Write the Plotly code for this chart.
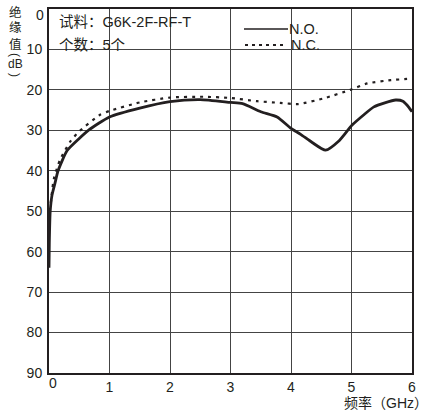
import plotly.graph_objects as go

# ---- data ----
no_x = [0, 0.005, 0.02, 0.05, 0.1, 0.15, 0.3, 0.5, 0.65, 1.0, 1.5, 2.0, 2.5, 3.0, 3.2, 3.5,
        3.77, 4.0, 4.16, 4.35, 4.57, 4.8, 5.01, 5.2, 5.37, 5.55, 5.73, 5.85, 5.92, 6.0]
no_y = [64, 58, 50, 46, 43, 40, 35, 32, 30, 26.7, 24.5, 22.9, 22.4, 23.1, 23.4, 25.4,
        26.7, 29.5, 31, 33, 34.9, 32.5, 28.7, 26.2, 24.2, 23.2, 22.5, 22.8, 23.8, 25.4]
nc_x = [0.03, 0.08, 0.18, 0.35, 0.49, 0.84, 1.0, 1.5, 2.0, 2.55, 3.0, 3.44, 3.82, 4.12,
        4.54, 4.98, 5.26, 5.65, 6.0]
nc_y = [48, 42, 37.4, 32.8, 30.4, 26.2, 25.2, 23.1, 21.9, 21.7, 22.0, 22.8, 23.2, 23.5,
        22.1, 20.0, 18.4, 17.6, 17.2]
x_ticks = [0, 1, 2, 3, 4, 5, 6]
y_ticks = [0, 10, 20, 30, 40, 50, 60, 70, 80, 90]

FONT = "Liberation Sans, Arial, Noto Sans CJK SC, sans-serif"
W, H = 427, 412
L, R, T, B = 49, 15, 9, 39
PW, PH = W - L - R, H - T - B


def px(xp):
    return (xp - L) / PW


def py(yp):
    return (H - B - yp) / PH


fig = go.Figure()
fig.add_trace(go.Scatter(x=nc_x, y=nc_y, mode="lines", name="N.C.",
                         line=dict(color="#231f20", width=2.2, dash="3px,5px", shape="spline", smoothing=0.6)))
fig.add_trace(go.Scatter(x=no_x, y=no_y, mode="lines", name="N.O.",
                         line=dict(color="#231f20", width=2.8, shape="spline", smoothing=0.6)))

shapes = [
    dict(type="rect", xref="paper", yref="paper", x0=px(50), x1=px(200), y0=py(34), y1=py(10),
         fillcolor="white", line=dict(width=0), layer="between"),
    dict(type="rect", xref="paper", yref="paper", x0=px(50), x1=px(131), y0=py(53), y1=py(34),
         fillcolor="white", line=dict(width=0), layer="between"),
    dict(type="rect", xref="paper", yref="paper", x0=px(240), x1=px(323), y0=py(53), y1=py(38),
         fillcolor="white", line=dict(width=0), layer="between"),
    dict(type="rect", xref="paper", yref="paper", x0=px(286), x1=px(321), y0=py(37), y1=py(21),
         fillcolor="white", line=dict(width=0), layer="between"),
    dict(type="line", xref="paper", yref="paper", x0=px(244), x1=px(288), y0=py(29), y1=py(29),
         line=dict(color="#231f20", width=1.5), layer="above"),
    dict(type="line", xref="paper", yref="paper", x0=px(245), x1=px(284), y0=py(45), y1=py(45),
         line=dict(color="#231f20", width=2, dash="3px,4px"), layer="above"),
]

ann = []


def txt(t, xp, yp, size=14.5, xa="left", ya="middle", angle=0):
    ann.append(dict(text=t, xref="paper", yref="paper", x=px(xp), y=py(yp), xanchor=xa, yanchor=ya,
                    showarrow=False, textangle=angle,
                    font=dict(family=FONT, size=size, color="#231f20")))


txt("试料：G6K-2F-RF-T", 57, 22)
txt("个数：5个", 57, 45)
txt("N.O.", 287, 29)
txt("N.C.", 289, 45)
txt("频率（GHz）", 386, 403, size=14, xa="center")
# vertical y-axis title
txt("绝", 15, 13, size=12.5, xa="center")
txt("缘", 15, 28, size=12.5, xa="center")
txt("值", 15, 44, size=12.5, xa="center")
txt("(", 15, 55, size=12, xa="center", angle=90)
txt("dB", 15, 64, size=12, xa="center")
txt(")", 15, 75, size=12, xa="center", angle=90)
# zero tick labels nudged as in the reference
txt(str(y_ticks[0]), 46, 15, size=14, xa="right")
txt(str(x_ticks[0]), 53, 383, size=14, xa="center")

fig.update_layout(
    width=W, height=H,
    margin=dict(l=L, r=R, t=T, b=B, autoexpand=False),
    paper_bgcolor="white", plot_bgcolor="white",
    showlegend=False,
    shapes=shapes, annotations=ann,
    font=dict(family=FONT, size=14, color="#231f20"),
    xaxis=dict(range=[0, 6], tickvals=x_ticks[1:], ticktext=[str(v) for v in x_ticks[1:]],
               showgrid=True, gridcolor="#444", gridwidth=1, zeroline=False,
               showline=True, linecolor="#231f20", linewidth=2, mirror=True,
               ticks="", ticklabelstandoff=0, tickfont=dict(size=14), automargin=False),
    yaxis=dict(range=[90, 0], tickvals=y_ticks[1:], ticktext=[str(v) for v in y_ticks[1:]],
               showgrid=True, gridcolor="#444", gridwidth=1, zeroline=False,
               showline=True, linecolor="#231f20", linewidth=2, mirror=True,
               ticks="", ticklabelstandoff=2, tickfont=dict(size=14), automargin=False),
)

fig.write_html("out.html", config={"displayModeBar": False},
               post_script="document.body.style.margin='0';document.body.style.padding='0';")
